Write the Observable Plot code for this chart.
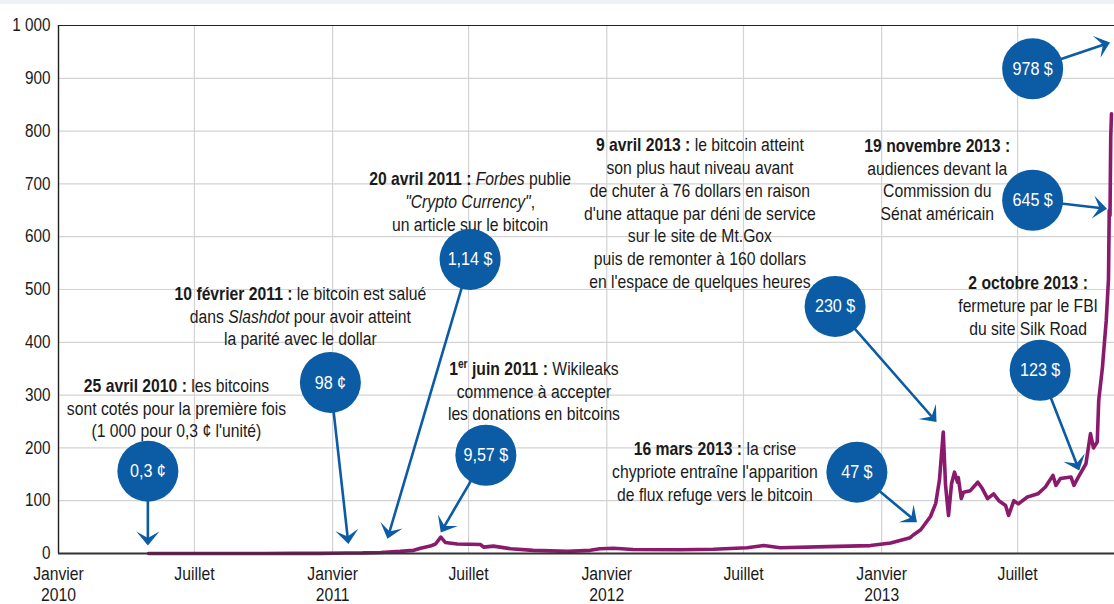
<!DOCTYPE html>
<html><head><meta charset="utf-8">
<script src="https://cdn.jsdelivr.net/npm/d3@7"></script>
<script src="https://cdn.jsdelivr.net/npm/@observablehq/plot@0.6"></script>
<style>
html,body{margin:0;padding:0;background:#eef2f6;}
#chart{margin-top:4px;width:1114px;height:600px;background:#fff;}
#chart svg{display:block;}
</style></head><body><div id="chart"></div>
<script>
// ---- Data ----
const priceDates = ["2010-05-01","2010-07-15","2010-10-01","2010-11-10","2010-12-15","2011-01-21","2011-02-10","2011-03-06","2011-04-01","2011-04-19","2011-04-28","2011-05-11","2011-05-18","2011-05-25","2011-05-31","2011-06-16","2011-07-17","2011-07-21","2011-08-03","2011-08-26","2011-09-25","2011-11-10","2011-12-10","2011-12-23","2012-01-10","2012-02-05","2012-04-08","2012-05-22","2012-07-06","2012-07-28","2012-08-19","2012-10-21","2012-12-17","2013-01-13","2013-02-08","2013-02-12","2013-02-22","2013-03-07","2013-03-14","2013-03-19","2013-03-24","2013-03-27","2013-03-31","2013-04-04","2013-04-08","2013-04-12","2013-04-13","2013-04-17","2013-04-20","2013-04-29","2013-05-09","2013-05-15","2013-05-22","2013-05-30","2013-06-06","2013-06-15","2013-06-19","2013-06-26","2013-07-02","2013-07-14","2013-07-28","2013-08-07","2013-08-17","2013-08-21","2013-08-27","2013-09-10","2013-09-14","2013-09-20","2013-09-30","2013-10-06","2013-10-10","2013-10-15","2013-10-17","2013-10-22","2013-10-23","2013-10-27","2013-10-30","2013-10-31","2013-11-01","2013-11-02","2013-11-03"];
const priceValues = [0.003,0.05,0.06,0.3,0.25,1,1.1,2,4,6,10,14,18,31,21,18,17,12,14,9,6,4,6,9,10,7.5,7,8,11,15,11,13,15,20,30,35,45,70,95,140,230,130,72,132,154,135,144,104,116,119,135,123,104,113,100,91,72,100,94,107,113,126,148,129,142,145,129,145,170,227,200,211,290,353,372,441,520,650,640,790,833];

const yTicks = [0,100,200,300,400,500,600,700,800,900,1000];
const xTickDates = ["2010-01-01","2010-07-01","2011-01-01","2011-07-01","2012-01-01","2012-07-01","2013-01-01","2013-07-01"];
const xTickLabels = ["Janvier\n2010","Juillet","Janvier\n2011","Juillet","Janvier\n2012","Juillet","Janvier\n2013","Juillet"];

const bubbleLabels = ["0,3 ¢","98 ¢","1,14 $","9,57 $","47 $","230 $","123 $","645 $","978 $"];
const bubbleDates = ["2010-04-30","2010-12-29","2011-07-03","2011-07-24","2012-11-29","2012-10-31","2013-07-31","2013-07-21","2013-07-21"];
const bubbleValues = [156,324,557,186,154,468,347,669,918];
const tipDates = ["2010-04-30","2011-01-22","2011-03-15","2011-05-25","2013-02-17","2013-03-15","2013-09-21","2013-10-28","2013-11-01"];
const tipValues = [15,18,28,40,59,249,157,653,968];

const noteTexts = [
  "**25 avril 2010 :** les bitcoins\nsont cotés pour la première fois\n(1 000 pour 0,3 ¢ l'unité)",
  "**10 février 2011 :** le bitcoin est salué\ndans _Slashdot_ pour avoir atteint\nla parité avec le dollar",
  "**20 avril 2011 :** _Forbes_ publie\n_\"Crypto Currency\"_,\nun article sur le bitcoin",
  "**1**^er^** juin 2011 :** Wikileaks\ncommence à accepter\nles donations en bitcoins",
  "**16 mars 2013 :** la crise\nchypriote entraîne l'apparition\nde flux refuge vers le bitcoin",
  "**9 avril 2013 :** le bitcoin atteint\nson plus haut niveau avant\nde chuter à 76 dollars en raison\nd'une attaque par déni de service\nsur le site de Mt.Gox\npuis de remonter à 160 dollars\nen l'espace de quelques heures",
  "**19 novembre 2013 :**\naudiences devant la\nCommission du\nSénat américain",
  "**2 octobre 2013 :**\nfermeture par le FBI\ndu site Silk Road"
];
const noteDates = ["2010-06-07","2010-11-19","2011-07-03","2011-09-26","2012-05-24","2012-05-04","2013-03-16","2013-07-15"];
const noteValues = [277,451,668,309,157,646,710,471];

// ---- Build tables ----
const price = priceDates.map((d,i)=>({date:new Date(d), value:priceValues[i]}));
const bubbles = bubbleLabels.map((t,i)=>({label:t, date:new Date(bubbleDates[i]), value:bubbleValues[i], tipDate:new Date(tipDates[i]), tipValue:tipValues[i]}));
const notes = noteTexts.map((t,i)=>({text:t, date:new Date(noteDates[i]), value:noteValues[i]}));
const xTicks = xTickDates.map(d=>new Date(d));

const FONT = "'Liberation Sans',Arial,sans-serif";
const NARROW = 0.85;
const BLUE = "#0b5ca5", PURPLE = "#8b1a6d", INK = "#1a1a1a";
const frFmt = d3.formatLocale({decimal:",", thousands:"\u00a0", grouping:[3], currency:["",""]}).format(",");

const arrowHead = {draw(ctx, size){
  const s = Math.sqrt(size/Math.PI)/10;
  ctx.moveTo(0,0); ctx.lineTo(-11.5*s,14*s); ctx.lineTo(0,7.5*s); ctx.lineTo(11.5*s,14*s); ctx.closePath();
}};

function build(rot){
  return Plot.plot({
    width:1114, height:600,
    marginLeft:58, marginRight:0, marginTop:21, marginBottom:51,
    style:{fontFamily:FONT, fontSize:"18.5px", color:INK, background:"#fff", overflow:"visible"},
    x:{type:"utc", domain:[new Date("2010-01-01"), new Date("2013-11-07")]},
    y:{domain:[0,1000]},
    marks:[
      Plot.gridY(yTicks,{stroke:"#d3d3d3", strokeOpacity:1, strokeWidth:1.2}),
      Plot.gridX(xTicks,{stroke:"#d3d3d3", strokeOpacity:1, strokeWidth:1.2}),
      Plot.axisY(yTicks,{tickSize:0, tickPadding:8, tickFormat:frFmt, fontSize:18, fill:INK}),
      Plot.axisX(xTicks,{tickSize:0, tickPadding:12, fontSize:18.5, fill:INK, lineHeight:1.12,
        tickFormat:d=>xTickLabels[xTicks.findIndex(t=>+t===+d)]}),
      Plot.ruleY([1000],{stroke:"#222", strokeWidth:1.2}),
      Plot.ruleX([new Date("2010-01-01")],{stroke:"#222", strokeWidth:1.4}),
      Plot.lineY(price,{x:"date", y:"value", stroke:PURPLE, strokeWidth:3.6, strokeLinejoin:"round"}),
      Plot.ruleY([0],{stroke:"#333", strokeWidth:2}),
      Plot.text(notes,{x:"date", y:"value", text:"text", lineAnchor:"middle", lineHeight:1.23, fontSize:18.5, fill:INK}),
      Plot.arrow(bubbles,{x1:"date", y1:"value", x2:"tipDate", y2:"tipValue", stroke:BLUE, strokeWidth:2.6, headLength:0, insetStart:20, insetEnd:7}),
      Plot.dot(bubbles,{x:"tipDate", y:"tipValue", symbol:arrowHead, r:10, fill:BLUE, stroke:"none", rotate:(d,i)=>rot[i]}),
      Plot.dot(bubbles,{x:"date", y:"value", r:30.5, fill:BLUE, stroke:"none"}),
      Plot.text(bubbles,{x:"date", y:"value", text:"label", fill:"#fff", fontSize:19})
    ]
  });
}

// first pass to read the scales, then compute arrowhead angles in pixel space
const p0 = build(bubbles.map(()=>0));
const sx = p0.scale("x"), sy = p0.scale("y");
const rot = bubbles.map(b=>{
  const dx = sx.apply(b.tipDate) - sx.apply(b.date);
  const dy = sy.apply(b.tipValue) - sy.apply(b.value);
  return Math.atan2(dx, -dy)*180/Math.PI;
});
const chart = build(rot);

// rich text: **bold**, _italic_, ^superscript^
function richify(svg){
  const re = /(\*\*[^*]+\*\*|_[^_]+_|\^[^^]+\^)/g;
  svg.querySelectorAll("text, tspan").forEach(el=>{
    if (el.children.length) return;
    const t = el.textContent;
    if (!/(\*\*|_|\^)/.test(t)) return;
    const parts = t.split(re).filter(p=>p!=="");
    el.textContent = "";
    for (const p of parts){
      const ts = document.createElementNS("http://www.w3.org/2000/svg","tspan");
      if (p.startsWith("**")){ ts.textContent = p.slice(2,-2); ts.setAttribute("font-weight","bold"); }
      else if (p.startsWith("_") && p.endsWith("_") && p.length>1){ ts.textContent = p.slice(1,-1); ts.setAttribute("font-style","italic"); }
      else if (p.startsWith("^") && p.endsWith("^") && p.length>1){ ts.textContent = p.slice(1,-1); ts.setAttribute("font-weight","bold"); ts.setAttribute("font-size","12px"); ts.setAttribute("baseline-shift","super"); }
      else ts.textContent = p;
      el.appendChild(ts);
    }
  });
}
// condensed look: scale each text horizontally around its own anchor (x = 0 in its local frame)
function condense(svg){
  svg.querySelectorAll("text").forEach(el=>{
    const tr = el.getAttribute("transform")||"";
    el.setAttribute("transform", `${tr} scale(${NARROW},1)`.trim());
  });
}
richify(chart);
condense(chart);
document.getElementById("chart").appendChild(chart);
</script>
</body></html>
